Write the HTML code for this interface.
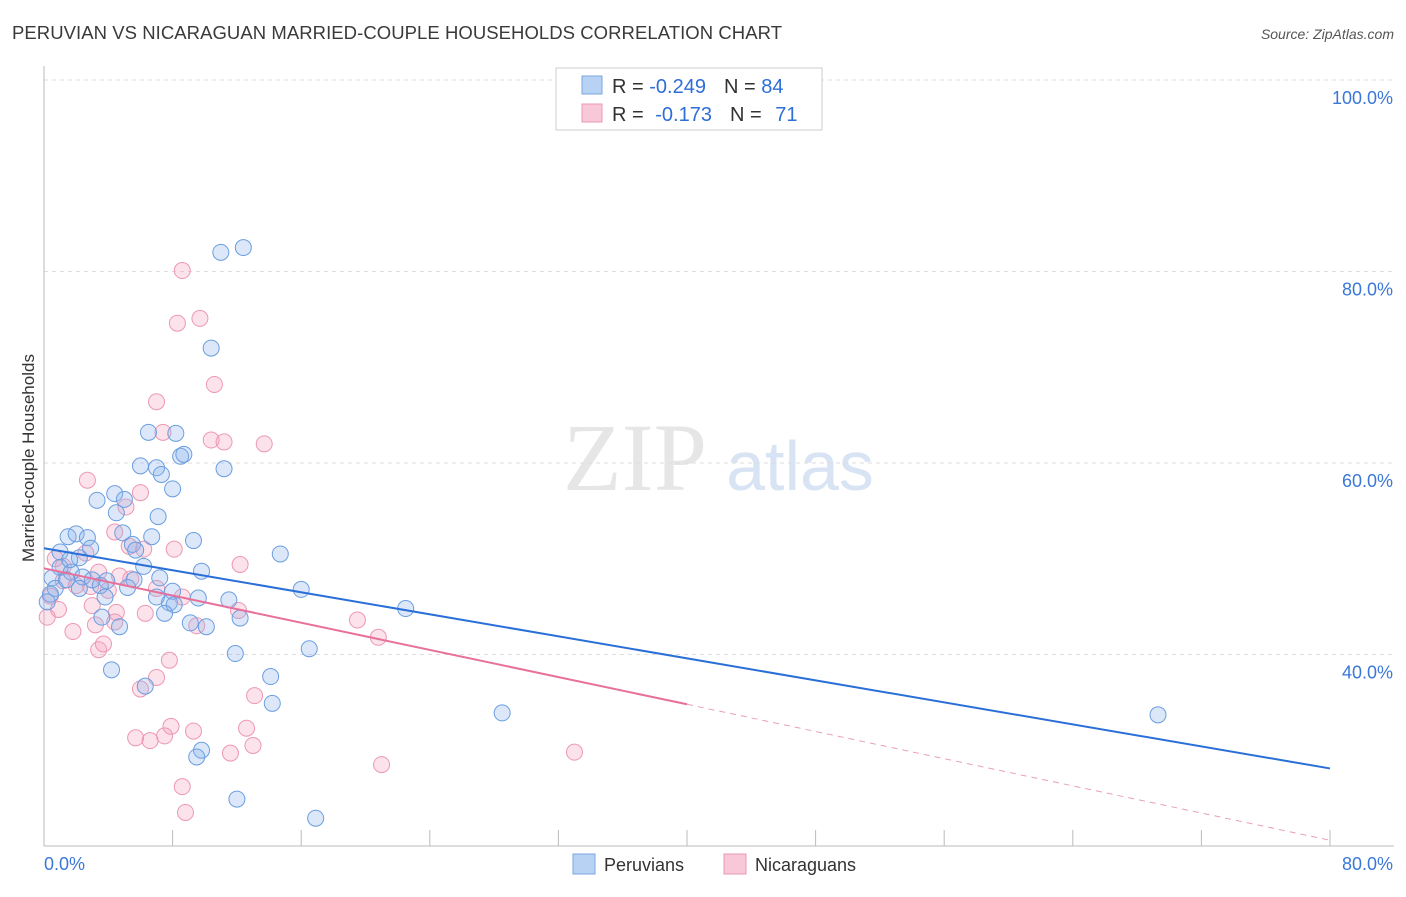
<!DOCTYPE html>
<html><head><meta charset="utf-8"><style>
body{margin:0;background:#fff;font-family:"Liberation Sans",sans-serif}
</style></head><body>
<svg id="c" width="1406" height="892" xmlns="http://www.w3.org/2000/svg">
<text x="12" y="39" font-size="18.5" fill="#3a3a3a" textLength="770">PERUVIAN VS NICARAGUAN MARRIED-COUPLE HOUSEHOLDS CORRELATION CHART</text>
<text x="1394" y="39" font-size="14" fill="#555" text-anchor="end" font-style="italic">Source: ZipAtlas.com</text>
<text x="635" y="490" font-size="96" fill="#e6e6e6" font-family="Liberation Serif,serif" text-anchor="middle">ZIP</text>
<text x="800" y="490" font-size="70" fill="#d8e4f4" text-anchor="middle">atlas</text>
<text transform="translate(34,458) rotate(-90)" font-size="17" fill="#333" text-anchor="middle">Married-couple Households</text>
<g id="grid"></g><g id="pts"></g><g id="lines"></g>
<g>
<rect x="556" y="68" width="266" height="62" fill="#fff" stroke="#ccc"/>
<rect x="582" y="76" width="20" height="18" fill="#b8d2f4" stroke="#7aa6e0"/>
<rect x="582" y="104" width="20" height="18" fill="#f8c8d8" stroke="#ec98b4"/>
<text x="612" y="93" font-size="20" fill="#333">R = <tspan fill="#2d6fd6">-0.249</tspan><tspan dx="18">N = </tspan><tspan fill="#2d6fd6">84</tspan></text>
<text x="612" y="121" font-size="20" fill="#333">R = <tspan dx="6" fill="#2d6fd6">-0.173</tspan><tspan dx="18">N = </tspan><tspan dx="8" fill="#2d6fd6">71</tspan></text>
</g>
<g>
<rect x="573" y="854" width="22" height="20" fill="#b8d2f4" stroke="#7aa6e0"/>
<text x="604" y="871" font-size="18" fill="#333">Peruvians</text>
<rect x="724" y="854" width="22" height="20" fill="#f8c8d8" stroke="#ec98b4"/>
<text x="755" y="871" font-size="18" fill="#333">Nicaraguans</text>
</g>
</svg>
<script>
const yTicks=[40,60,80,100];
const xTickLabels=["0.0%","80.0%"];
const blueX=[11.0,12.4,10.4,6.5,8.2,8.5,8.7,6.0,7.0,7.3,11.2,8.0,3.3,4.4,5.0,4.5,7.1,1.5,2.0,2.7,4.9,6.7,9.3,2.9,5.5,5.7,1.0,2.2,14.7,6.2,1.0,1.7,0.5,1.4,2.4,3.0,3.9,9.8,5.6,7.2,0.7,2.2,3.5,5.2,8.0,16.0,0.4,3.8,7.0,7.8,8.1,9.6,11.5,22.5,0.2,3.6,7.5,9.1,12.2,4.7,10.1,11.9,16.5,4.2,14.1,6.3,14.2,28.5,69.3,9.8,9.5,12.0,16.9,1.6];
const blueY=[82.0,82.5,72.0,63.2,63.1,60.7,60.9,59.7,59.5,58.8,59.4,57.3,56.1,56.8,56.2,54.8,54.4,52.3,52.6,52.2,52.7,52.3,51.9,51.1,51.5,50.9,50.7,50.1,50.5,49.2,49.1,48.6,48.0,47.8,48.1,47.8,47.7,48.7,47.8,48.0,46.9,46.9,47.2,47.0,46.6,46.8,46.3,46.0,46.0,45.4,45.2,45.9,45.7,44.8,45.5,43.9,44.3,43.3,43.8,42.9,42.9,40.1,40.6,38.4,37.7,36.7,34.9,33.9,33.7,30.0,29.3,24.9,22.9,49.9];
const pinkX=[8.6,8.3,9.7,10.6,7.0,7.4,10.4,11.2,13.7,2.7,6.0,5.1,4.4,5.3,6.2,8.1,2.6,0.7,12.2,3.4,4.7,1.2,2.0,2.9,4.0,5.4,7.0,8.6,0.4,0.9,3.0,4.5,6.3,12.1,19.5,0.2,1.8,3.2,4.4,9.5,20.8,3.4,3.7,7.8,7.0,6.0,13.1,7.9,9.3,12.6,7.5,5.7,6.6,13.0,11.6,33.0,21.0,8.6,8.8,1.2];
const pinkY=[80.1,74.6,75.1,68.2,66.4,63.2,62.4,62.2,62.0,58.2,56.9,55.4,52.8,51.3,51.0,51.0,50.6,50.0,49.4,48.6,48.2,47.7,47.2,47.1,46.7,47.9,46.9,46.0,46.1,44.7,45.1,44.4,44.3,44.6,43.6,43.9,42.4,43.1,43.4,43.0,41.8,40.5,41.1,39.4,37.6,36.4,35.7,32.5,32.0,32.3,31.5,31.3,31.0,30.5,29.7,29.8,28.5,26.2,23.5,49.2];
const blueTrend=[51.1,28.1];
const pinkTrend=[49.0,20.6];
const pinkSolidEnd=40;
const NS="http://www.w3.org/2000/svg";
const X0=44,X1=1330,Y20=846,Y100=80;
function sx(v){return X0+(v/80)*(X1-X0);}
function sy(v){return Y20-(v-20)/80*(Y20-Y100);}
function mk(t,a,p){const e=document.createElementNS(NS,t);for(const k in a)e.setAttribute(k,a[k]);p.appendChild(e);return e;}
const grid=document.getElementById('grid');
yTicks.forEach(v=>{
 const l=mk('line',{x1:X0,x2:1394,y1:sy(v),y2:sy(v),stroke:'#ddd','stroke-dasharray':'4,4'},grid);
 
 
 const t=mk('text',{x:1393,y:sy(v)+24,'font-size':18,fill:'#3a78d8','text-anchor':'end'},grid);
 t.textContent=v.toFixed(1)+'%';
 
 
});
mk('line',{x1:X0,x2:X0,y1:66,y2:846,stroke:'#bbb'},grid);
mk('line',{x1:X0,x2:1394,y1:846,y2:846,stroke:'#bbb'},grid);
for(let i=1;i<=10;i++){const x=sx(i*8);mk('line',{x1:x,x2:x,y1:830,y2:846,stroke:'#bbb'},grid);}
xTickLabels.forEach((s,i)=>{
 const t=mk('text',{x:i?1393:44,y:870,'font-size':18,fill:'#3a78d8','text-anchor':i?'end':'start'},grid);
 t.textContent=s;
 
 
});
const pts=document.getElementById('pts');
pinkX.forEach((v,i)=>{
 const c=mk('circle',{cx:sx(v),cy:sy(pinkY[i]),r:8,fill:'rgba(244,160,190,0.3)',stroke:'#ec98b4','stroke-width':1},pts);
 
 
});
blueX.forEach((v,i)=>{
 const c=mk('circle',{cx:sx(v),cy:sy(blueY[i]),r:8,fill:'rgba(140,180,235,0.3)',stroke:'#6a9ee0','stroke-width':1},pts);
 
 
});
const lines=document.getElementById('lines');
const bl=mk('line',{x1:sx(0),y1:sy(blueTrend[0]),x2:sx(80),y2:sy(blueTrend[1]),stroke:'#2a6fd8','stroke-width':2},lines);


const pm=pinkTrend[0]+(pinkTrend[1]-pinkTrend[0])*pinkSolidEnd/80;
const pl=mk('line',{x1:sx(0),y1:sy(pinkTrend[0]),x2:sx(pinkSolidEnd),y2:sy(pm),stroke:'#e8709a','stroke-width':2},lines);


const pd=mk('line',{x1:sx(pinkSolidEnd),y1:sy(pm),x2:sx(80),y2:sy(pinkTrend[1]),stroke:'#e8a0b8','stroke-width':1,'stroke-dasharray':'6,5'},lines);


</script>
</body></html>
